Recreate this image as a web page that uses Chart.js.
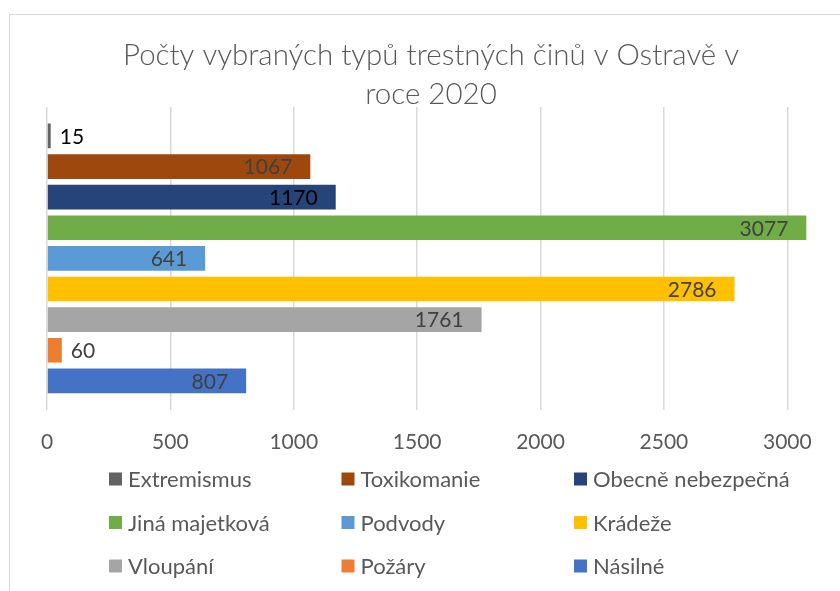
<!DOCTYPE html>
<html>
<head>
<meta charset="utf-8">
<script src="https://cdn.jsdelivr.net/npm/chart.js@4/dist/chart.umd.min.js"></script>
<style>
  html, body { margin: 0; padding: 0; background: #ffffff; }
  #wrap { width: 840px; height: 591px; position: relative; }
</style>
</head>
<body>
<div id="wrap"><canvas id="chart" width="840" height="591"></canvas></div>
<script>
// Počty vybraných typů trestných činů v Ostravě, rok 2020
const titleLines = ['Počty vybraných typů trestných činů v Ostravě v', 'roce 2020'];
const categories = ['2020'];
const seriesNames = ['Extremismus', 'Toxikomanie', 'Obecně nebezpečná', 'Jiná majetková',
                     'Podvody', 'Krádeže', 'Vloupání', 'Požáry', 'Násilné'];
const seriesValues = [15, 1067, 1170, 3077, 641, 2786, 1761, 60, 807];
const seriesColors = ['#636363', '#9E480E', '#264478', '#70AD47',
                      '#5B9BD5', '#FFC000', '#A5A5A5', '#ED7D31', '#4472C4'];
const labelColors = ['#000000', '#404040', '#000000', '#404040',
                     '#404040', '#404040', '#404040', '#404040', '#404040'];
const tickValues = [0, 500, 1000, 1500, 2000, 2500, 3000];

const FONT = 'Lato, "Open Sans", sans-serif';
const TEXT = '#595959';

// frame, title and legend drawn around the plot
const decorations = {
  id: 'decorations',
  beforeDraw(chart) {
    const ctx = chart.ctx;
    ctx.save();
    ctx.fillStyle = '#ffffff';
    ctx.fillRect(0, 0, chart.width, chart.height);
    ctx.strokeStyle = '#d9d9d9';
    ctx.lineWidth = 1;
    ctx.strokeRect(9.5, 14.5, chart.width + 20, chart.height + 20);
    ctx.restore();
  },
  afterDraw(chart) {
    const ctx = chart.ctx;
    ctx.save();
    ctx.fillStyle = TEXT;
    ctx.textAlign = 'center';
    ctx.textBaseline = 'middle';
    ctx.font = '300 29.5px ' + FONT;
    titleLines.forEach((t, i) => ctx.fillText(t, 431, 55 + i * 39));

    ctx.font = '22px ' + FONT;
    ctx.textAlign = 'left';
    chart.data.datasets.forEach((ds, i) => {
      const col = i % 3, row = Math.floor(i / 3);
      const x = 109 + col * 232.5;
      const y = 479 + row * 43.5;
      ctx.fillStyle = ds.backgroundColor;
      ctx.fillRect(x, y - 6.5, 13, 13);
      ctx.fillStyle = TEXT;
      ctx.fillText(ds.label, x + 19, y + 1);
    });
    ctx.restore();
  }
};

// value labels at the end of every bar
const valueLabels = {
  id: 'valueLabels',
  afterDatasetsDraw(chart) {
    const ctx = chart.ctx;
    ctx.save();
    ctx.font = '21px ' + FONT;
    ctx.textBaseline = 'middle';
    chart.data.datasets.forEach((ds, i) => {
      const bar = chart.getDatasetMeta(i).data[0];
      const text = String(ds.data[0]);
      const w = ctx.measureText(text).width;
      const len = bar.x - bar.base;
      ctx.fillStyle = ds.labelColor;
      if (len > w + 30) {
        ctx.textAlign = 'right';
        ctx.fillText(text, bar.x - 18, bar.y + 1);
      } else {
        ctx.textAlign = 'left';
        ctx.fillText(text, bar.x + 9, bar.y + 1);
      }
    });
    ctx.restore();
  }
};

new Chart(document.getElementById('chart'), {
  type: 'bar',
  data: {
    labels: categories,
    datasets: seriesNames.map((name, i) => ({
      label: name,
      data: [seriesValues[i]],
      backgroundColor: seriesColors[i],
      labelColor: labelColors[i],
      borderWidth: 0,
      categoryPercentage: 0.91,
      barPercentage: 0.806
    }))
  },
  options: {
    indexAxis: 'y',
    responsive: false,
    animation: false,
    devicePixelRatio: 1,
    layout: { padding: { left: 47, right: 28, top: 107, bottom: 116 } },
    plugins: {
      legend: { display: false },
      title: { display: false },
      tooltip: { enabled: false }
    },
    scales: {
      x: {
        type: 'linear',
        min: 0,
        max: 3100,
        afterBuildTicks(scale) {
          scale.ticks = tickValues.map(v => ({ value: v }));
        },
        grid: { color: '#d9d9d9', lineWidth: 1.5, drawTicks: false },
        border: { display: false },
        ticks: {
          padding: 20,
          color: TEXT,
          font: { family: FONT, size: 21 },
          callback: v => String(v)
        }
      },
      y: { display: false }
    }
  },
  plugins: [decorations, valueLabels]
});
</script>
</body>
</html>
